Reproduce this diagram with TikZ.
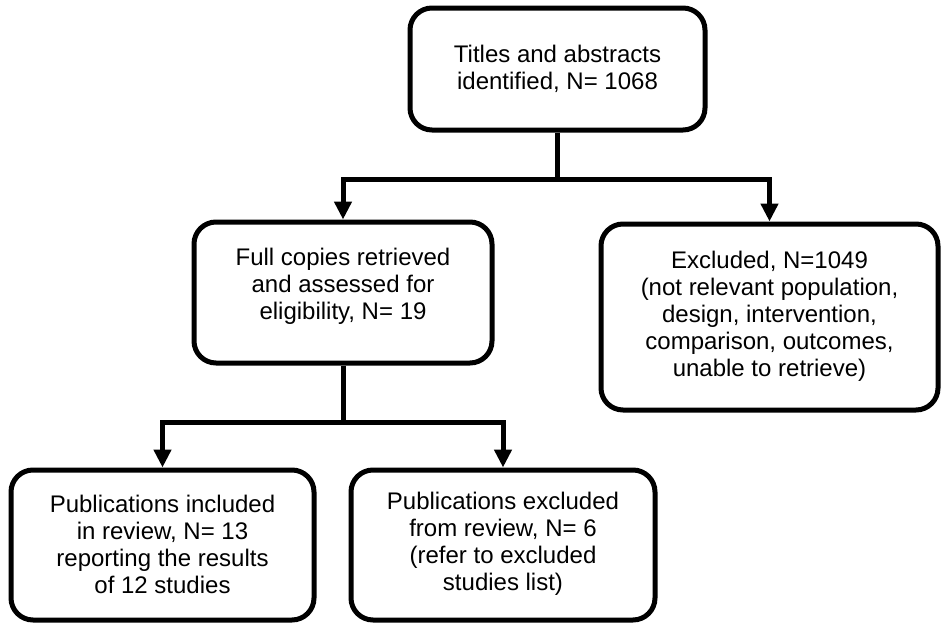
\documentclass[tikz,border=0pt]{standalone}
\usepackage{fontspec}
\setmainfont{Liberation Sans}
\usetikzlibrary{arrows.meta}
\tikzset{
  flowbox/.style={draw=black, line width=5pt, rounded corners=22pt, inner sep=0pt, fill=white},
  boxtext/.style={align=center, inner sep=0pt, font=\fontsize{24}{27}\selectfont},
  conn/.style={draw=black, line width=5pt},
  connarrow/.style={conn, -{Triangle[width=17pt,length=18pt]}}
}
\begin{document}
\begin{tikzpicture}[x=1pt,y=-1pt]
\useasboundingbox (0,0) rectangle (942,624);
\node[flowbox, minimum width=295pt, minimum height=122pt] (top) at (557.5,69) {};
\node[boxtext] (toptext) at (557.5,69) {Titles and abstracts\\identified, N= 1068};
\node[flowbox, minimum width=298pt, minimum height=141pt] (mid) at (343,292.5) {};
\node[boxtext] (midtext) at (343,286) {Full copies retrieved\\and assessed for\\eligibility, N= 19};
\node[flowbox, minimum width=337pt, minimum height=186pt] (excl) at (769.5,317) {};
\node[boxtext] (excltext) at (769.5,316) {Excluded, N=1049\\(not relevant population,\\design, intervention,\\comparison, outcomes,\\unable to retrieve)};
\node[flowbox, minimum width=303pt, minimum height=150pt] (incl) at (162.5,545) {};
\node[boxtext] (incltext) at (162.5,544) {Publications included\\in review, N= 13\\reporting the results\\of 12 studies};
\node[flowbox, minimum width=304pt, minimum height=150pt] (pexcl) at (503,545) {};
\node[boxtext] (pexcltext) at (503,544) {Publications excluded\\from review, N= 6\\(refer to excluded\\studies list)};
\coordinate (j1) at (557.5,179);
\coordinate (j2) at (343,422);
\draw[conn] (top.south) -- (j1);
\draw[connarrow] (j1) -| (mid.north);
\draw[connarrow] (j1) -| (excl.north);
\draw[conn] (mid.south) -- (j2);
\draw[connarrow] (j2) -| (incl.north);
\draw[connarrow] (j2) -| (pexcl.north);
\end{tikzpicture}
\end{document}
